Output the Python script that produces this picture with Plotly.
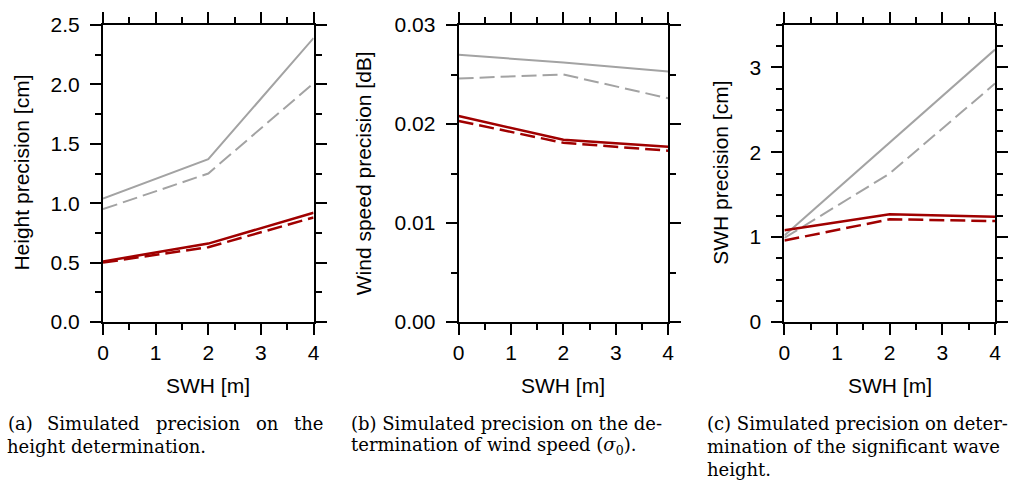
import plotly.graph_objects as go

# ---------------- data ----------------
swh = [0, 2, 4]

a_gray_solid = [1.04, 1.37, 2.39]
a_gray_dash = [0.95, 1.25, 2.01]
a_red_solid = [0.51, 0.66, 0.92]
a_red_dash = [0.50, 0.63, 0.88]

b_gray_solid = [0.0270, 0.0262, 0.0253]
b_gray_dash = [0.0246, 0.0250, 0.0226]
b_red_solid = [0.0208, 0.0184, 0.0177]
b_red_dash = [0.0203, 0.0181, 0.0173]

c_gray_solid = [1.02, 2.11, 3.21]
c_gray_dash = [0.99, 1.75, 2.81]
c_red_solid = [1.08, 1.27, 1.24]
c_red_dash = [0.96, 1.21, 1.19]

y_titles = ["Height precision [cm]", "Wind speed precision [dB]", "SWH precision [cm]"]
x_title = "SWH [m]"

# ---------------- layout geometry (pixels) ----------------
W, H = 1020, 486
ML, MR, MT, MB = 103, 19, 19, 164
PW = W - ML - MR
PH = H - MT - MB
panels_px = [(103, 315), (461, 672), (789, 1001)]


def px(x):
    return (x - ML) / PW


def py(y):
    return (H - MB - y) / PH


GRAY = "#a3a3a3"
RED = "#a00000"
TICKFONT = dict(family="Liberation Sans, Arial, sans-serif", size=21, color="black")

fig = go.Figure()

series = [
    (a_gray_solid, a_gray_dash, a_red_solid, a_red_dash),
    (b_gray_solid, b_gray_dash, b_red_solid, b_red_dash),
    (c_gray_solid, c_gray_dash, c_red_solid, c_red_dash),
]

for i, (gs, gd, rs, rd) in enumerate(series):
    xa = "x" if i == 0 else f"x{i+1}"
    ya = "y" if i == 0 else f"y{i+1}"
    fig.add_trace(go.Scatter(x=swh, y=gs, mode="lines", line=dict(color=GRAY, width=2), xaxis=xa, yaxis=ya, showlegend=False))
    fig.add_trace(go.Scatter(x=swh, y=gd, mode="lines", line=dict(color=GRAY, width=2, dash="15px,6px"), xaxis=xa, yaxis=ya, showlegend=False))
    fig.add_trace(go.Scatter(x=swh, y=rs, mode="lines", line=dict(color=RED, width=2.5), xaxis=xa, yaxis=ya, showlegend=False))
    fig.add_trace(go.Scatter(x=swh, y=rd, mode="lines", line=dict(color=RED, width=2.5, dash="15px,6px"), xaxis=xa, yaxis=ya, showlegend=False))

yspecs = [
    dict(range=[0, 2.5], dtick=0.5, minor=0.25, fmt=".1f"),
    dict(range=[0, 0.03], dtick=0.01, minor=0.005, fmt=".2f"),
    dict(range=[0, 3.5], dtick=1, minor=0.25, fmt="d"),
]

common = dict(
    showline=True, linewidth=2, linecolor="black", mirror="allticks",
    ticks="outside", ticklen=11, tickwidth=1.5, tickcolor="black",
    showgrid=False, zeroline=False, tickfont=TICKFONT, fixedrange=True,
)

layout = dict(
    width=W, height=H,
    margin=dict(l=ML, r=MR, t=MT, b=MB, pad=0),
    plot_bgcolor="white", paper_bgcolor="white",
    showlegend=False,
)

for i, ((x0, x1), ys) in enumerate(zip(panels_px, yspecs)):
    k = "" if i == 0 else str(i + 1)
    layout[f"xaxis{k}"] = dict(
        common, domain=[px(x0), px(x1)], range=[0, 4], dtick=1, tick0=0,
        anchor=f"y{k}",
        minor=dict(dtick=0.5, ticklen=6, tickwidth=1.5, tickcolor="black", ticks="outside"),
    )
    layout[f"yaxis{k}"] = dict(
        common, domain=[0, 1], range=ys["range"], dtick=ys["dtick"], tick0=0,
        tickformat=ys["fmt"], anchor=f"x{k}", ticklabelstandoff=6,
        minor=dict(dtick=ys["minor"], ticklen=6, tickwidth=1.5, tickcolor="black", ticks="outside"),
    )

fig.update_layout(**layout)

# axis titles
TITLEFONT = dict(family="Liberation Sans, Arial, sans-serif", size=21, color="black")
ytitle_x = [20, 365, 724]
for (x0, x1), t, tx in zip(panels_px, y_titles, ytitle_x):
    fig.add_annotation(x=px(tx), y=py(170), xref="paper", yref="paper", text=t, textangle=-90,
                       showarrow=False, font=TITLEFONT, xanchor="center", yanchor="middle")
    fig.add_annotation(x=px((x0 + x1) / 2), y=py(387), xref="paper", yref="paper", text=x_title,
                       showarrow=False, font=TITLEFONT, xanchor="center", yanchor="middle")

# captions
CAPFONT = dict(family="DejaVu Serif, serif", size=18, color="black")
words_a = [("(a)", 20), ("Simulated", 93), ("precision", 199), ("on", 269), ("the", 310)]
for w, xw in words_a:
    fig.add_annotation(x=px(xw), y=py(426), xref="paper", yref="paper", text=w, showarrow=False,
                       font=CAPFONT, xanchor="center", yanchor="middle")
fig.add_annotation(x=px(4), y=py(449), xref="paper", yref="paper", text="height determination.",
                   showarrow=False, font=CAPFONT, xanchor="left", yanchor="middle")

fig.add_annotation(x=px(351), y=py(426), xref="paper", yref="paper",
                   text="(b) Simulated precision on the de-", showarrow=False, font=CAPFONT,
                   xanchor="left", yanchor="middle")
fig.add_annotation(x=px(351), y=py(449), xref="paper", yref="paper",
                   text="termination of wind speed (<i>σ</i><sub>0</sub>).", showarrow=False, font=CAPFONT,
                   xanchor="left", yanchor="middle")

cap_c = ["(c) Simulated precision on deter-", "mination of the significant wave", "height."]
for j, line in enumerate(cap_c):
    fig.add_annotation(x=px(709), y=py(426 + 23 * j), xref="paper", yref="paper",
                       text=line, showarrow=False, font=CAPFONT, xanchor="left", yanchor="middle")

fig.write_html("out.html")
